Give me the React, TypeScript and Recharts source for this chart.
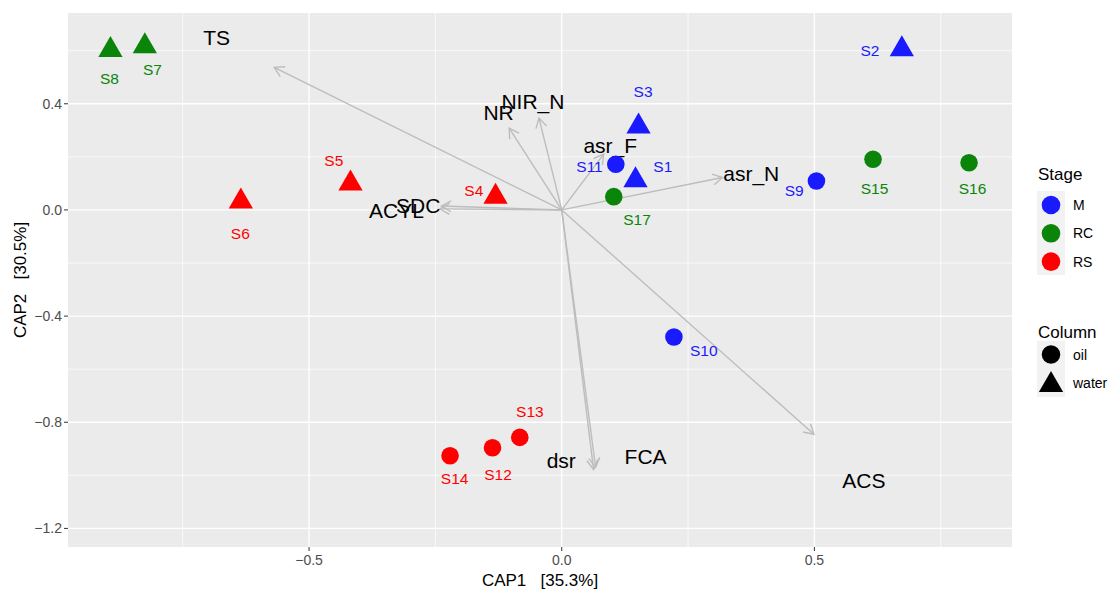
import React from 'react';
import { ScatterChart, Scatter, XAxis, YAxis, CartesianGrid, ReferenceLine } from 'recharts';

// ---- data ----
const sampleIds = ['S1','S2','S3','S4','S5','S6','S7','S8','S9','S10','S11','S12','S13','S14','S15','S16','S17'];
const sampleX = [0.146, 0.673, 0.152, -0.131, -0.418, -0.635, -0.825, -0.893, 0.504, 0.222, 0.107, -0.137, -0.083, -0.221, 0.616, 0.806, 0.103];
const sampleY = [0.112, 0.605, 0.314, 0.050, 0.100, 0.032, 0.617, 0.603, 0.109, -0.479, 0.172, -0.896, -0.857, -0.926, 0.191, 0.178, 0.050];
const sampleStage = ['M','M','M','RS','RS','RS','RC','RC','M','M','M','RS','RS','RS','RC','RC','RC'];
const sampleColumn = ['water','water','water','water','water','water','water','water','oil','oil','oil','oil','oil','oil','oil','oil','oil'];
const sampleLabelX = [0.200, 0.610, 0.161, -0.174, -0.451, -0.636, -0.810, -0.895, 0.460, 0.281, 0.055, -0.126, -0.063, -0.212, 0.619, 0.813, 0.149];
const sampleLabelY = [0.163, 0.601, 0.445, 0.073, 0.185, -0.088, 0.531, 0.494, 0.075, -0.528, 0.163, -0.995, -0.761, -1.012, 0.082, 0.082, -0.035];

const envNames = ['TS','NR','NIR_N','asr_F','asr_N','SDC','ACYL','dsr','FCA','ACS'];
const envX = [-0.569, -0.104, -0.045, 0.083, 0.318, -0.238, -0.241, 0.063, 0.067, 0.499];
const envY = [0.537, 0.308, 0.346, 0.210, 0.122, 0.015, 0.004, -0.978, -0.970, -0.845];
const envLabelX = [-0.683, -0.125, -0.057, 0.096, 0.375, -0.284, -0.327, -0.001, 0.166, 0.598];
const envLabelY = [0.649, 0.367, 0.408, 0.241, 0.138, 0.015, -0.003, -0.943, -0.928, -1.018];

const xTicks = [-0.5, 0, 0.5];
const yTicks = [-1.2, -0.8, -0.4, 0, 0.4];
const xMinor = [-0.75, -0.25, 0.25, 0.75];
const yMinor = [0.6, 0.2, -0.2, -0.6, -1.0];
const xDomain = [-0.977, 0.891];
const yDomain = [-1.270, 0.742];

const stageLevels = ['M', 'RC', 'RS'];
const stageColors = ['#1a1aff', '#0a850a', '#ff0000'];
const columnLevels = ['oil', 'water'];

const FONT = '"Liberation Sans", Arial, Helvetica, sans-serif';
const ARROW = '#bdbdbd';

const colorOf = (s: string) => stageColors[stageLevels.indexOf(s)];

const samples = sampleIds.map((id, i) => ({
  name: id, x: sampleX[i], y: sampleY[i], stage: sampleStage[i], column: sampleColumn[i],
}));
const sampleLabels = sampleIds.map((id, i) => ({
  name: id, x: sampleLabelX[i], y: sampleLabelY[i], stage: sampleStage[i],
}));
const envLabels = envNames.map((n, i) => ({ name: n, x: envLabelX[i], y: envLabelY[i] }));

const fmt = (v: number) => {
  const s = v.toFixed(1);
  return v < 0 ? '\u2212' + s.slice(1) : s;
};

const triPath = (cx: number, cy: number, r: number) => {
  const xc = r * 0.866;
  return `M${cx},${cy - r} L${cx + xc},${cy + r / 2} L${cx - xc},${cy + r / 2} Z`;
};

const PointShape = (p: any) => {
  const { cx, cy, payload } = p;
  const c = colorOf(payload.stage);
  if (payload.column === 'water') return <path d={triPath(cx, cy, 14)} fill={c} />;
  return <circle cx={cx} cy={cy} r={8.8} fill={c} />;
};

const SampleLabelShape = (p: any) => (
  <text x={p.cx} y={p.cy} textAnchor="middle" dominantBaseline="central" fontSize={15.5}
    fontFamily={FONT} fill={colorOf(p.payload.stage)}>{p.payload.name}</text>
);

const EnvLabelShape = (p: any) => (
  <text x={p.cx} y={p.cy} textAnchor="middle" dominantBaseline="central" fontSize={21}
    fontFamily={FONT} fill="#000">{p.payload.name}</text>
);

const ArrowShape = (p: any) => {
  const { x1, y1, x2, y2 } = p;
  const ang = Math.atan2(y2 - y1, x2 - x1);
  const L = 11;
  const a = Math.PI / 6;
  const ax = x2 - L * Math.cos(ang - a), ay = y2 - L * Math.sin(ang - a);
  const bx = x2 - L * Math.cos(ang + a), by = y2 - L * Math.sin(ang + a);
  return (
    <g>
      <line x1={x1} y1={y1} x2={x2} y2={y2} stroke={ARROW} strokeWidth={1.4} />
      <polyline points={`${ax},${ay} ${x2},${y2} ${bx},${by}`} fill="none" stroke={ARROW} strokeWidth={1.4} />
    </g>
  );
};

const Legend = () => (
  <svg width={1111} height={591} style={{ position: 'absolute', left: 0, top: 0, pointerEvents: 'none' }}>
    <text x={540} y={586} textAnchor="middle" fontSize={17} fontFamily={FONT} fill="#000" style={{ whiteSpace: 'pre' }}>{'CAP1   [35.3%]'}</text>
    <text x={0} y={0} transform="translate(26,280) rotate(-90)" textAnchor="middle" fontSize={17} fontFamily={FONT} fill="#000" style={{ whiteSpace: 'pre' }}>{'CAP2   [30.5%]'}</text>
    <text x={1038} y={180} fontSize={17} fontFamily={FONT} fill="#000">Stage</text>
    <rect x={1037} y={191} width={28} height={84} fill="#f2f2f2" />
    {stageLevels.map((s, i) => (
      <g key={s}>
        <circle cx={1051} cy={205 + i * 28.3} r={9.3} fill={stageColors[i]} />
        <text x={1073} y={205 + i * 28.3} dominantBaseline="central" fontSize={14} fontFamily={FONT} fill="#000">{s}</text>
      </g>
    ))}
    <text x={1038} y={338} fontSize={17} fontFamily={FONT} fill="#000">Column</text>
    <rect x={1037} y={341} width={28} height={56} fill="#f2f2f2" />
    {columnLevels.map((s, i) => (
      <g key={s}>
        {s === 'oil'
          ? <circle cx={1051} cy={354.5} r={9.3} fill="#000" />
          : <path d={triPath(1051, 385, 14)} fill="#000" />}
        <text x={1073} y={354.5 + i * 28.3} dominantBaseline="central" fontSize={14} fontFamily={FONT} fill="#000">{s}</text>
      </g>
    ))}
  </svg>
);

export default function App() {
  return (
    <div style={{ position: 'absolute', left: 0, top: 0, width: 1111, height: 591, background: '#fff' }}>
      <ScatterChart width={1111} height={591} margin={{ top: 13, right: 99, left: 0, bottom: 0 }}>
        <CartesianGrid fill="#ebebeb" stroke="#ffffff" strokeWidth={1.3} horizontalValues={yTicks} verticalValues={xTicks} />
        <XAxis type="number" dataKey="x" domain={xDomain} ticks={xTicks} allowDataOverflow height={44}
          axisLine={false} tickLine={{ stroke: '#333333' }} tickSize={4} tickMargin={4}
          tickFormatter={fmt} tick={{ fill: '#4d4d4d', fontSize: 14, fontFamily: FONT }} />
        <YAxis type="number" dataKey="y" domain={yDomain} ticks={yTicks} allowDataOverflow width={68}
          axisLine={false} tickLine={{ stroke: '#333333' }} tickSize={4} tickMargin={2}
          tickFormatter={fmt} tick={{ fill: '#4d4d4d', fontSize: 14, fontFamily: FONT }} />
        {xMinor.map((v) => (
          <ReferenceLine key={'xm' + v} x={v} stroke="#ffffff" strokeWidth={0.7} />
        ))}
        {yMinor.map((v) => (
          <ReferenceLine key={'ym' + v} y={v} stroke="#ffffff" strokeWidth={0.7} />
        ))}
        {envNames.map((n, i) => (
          <ReferenceLine key={'arr' + n} segment={[{ x: 0, y: 0 }, { x: envX[i], y: envY[i] }]}
            ifOverflow="visible" shape={ArrowShape} />
        ))}
        <Scatter data={envLabels} shape={EnvLabelShape} isAnimationActive={false} />
        <Scatter data={samples} shape={PointShape} isAnimationActive={false} />
        <Scatter data={sampleLabels} shape={SampleLabelShape} isAnimationActive={false} />
      </ScatterChart>
      <Legend />
    </div>
  );
}
